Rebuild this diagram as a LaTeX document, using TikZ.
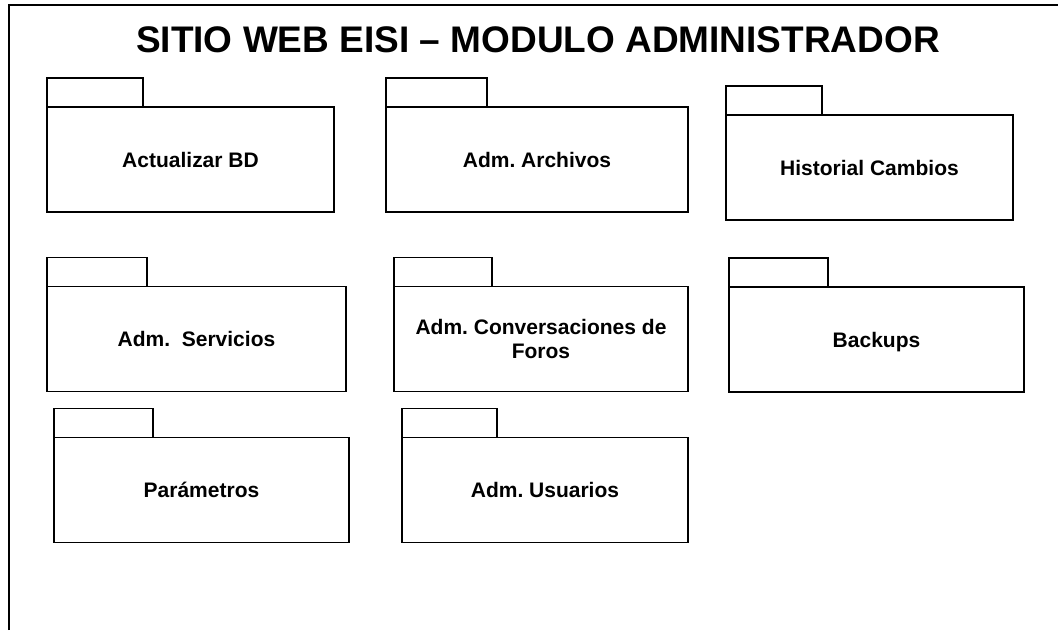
\documentclass[tikz,border=0pt]{standalone}
\usepackage{fontspec}
\setmainfont{Liberation Sans}
\usepackage{tikz}
\usetikzlibrary{positioning}
\frenchspacing

\begin{document}
\begin{tikzpicture}[
    x=1pt, y=-1pt,
    pkg/.style={draw, line width=1.4pt, outer sep=0pt, minimum height=105pt,
                align=center, font=\fontsize{21}{24}\selectfont\bfseries},
    tab/.style={draw, line width=1.4pt, outer sep=0pt, inner sep=0pt,
                minimum height=29pt, anchor=south west},
  ]
    \useasboundingbox (0,0) rectangle (1058,630);

    % Outer frame (only top and left edges show)
    \draw[line width=1.4pt] (9,630) -- (9,5) -- (1058,5);

    % Title
    \node[anchor=base, inner sep=0pt, font=\fontsize{37}{40}\selectfont\bfseries]
      (title) at (538,52) {SITIO WEB EISI \textendash{} MODULO ADMINISTRADOR};

    % First row
    \node[pkg, minimum width=287pt] (actbd) at (190.5,159.5) {Actualizar BD};
    \node[tab, minimum width=96pt] (actbd-tab) at (actbd.north west) {};

    \node[pkg, minimum width=302pt] (admarch) at (537,159.5) {Adm. Archivos};
    \node[tab, minimum width=101pt] (admarch-tab) at (admarch.north west) {};

    \node[pkg, minimum width=287pt] (histcamb) at (869.5,167.5) {Historial Cambios};
    \node[tab, minimum width=96pt] (histcamb-tab) at (histcamb.north west) {};

    % Second row
    \node[pkg, minimum width=299pt] (admserv) at (196.5,339) {Adm.\ \ Servicios};
    \node[tab, minimum width=100pt] (admserv-tab) at (admserv.north west) {};

    \node[pkg, minimum width=294pt] (admforos) at (541,339)
      {Adm. Conversaciones de\\Foros};
    \node[tab, minimum width=98pt] (admforos-tab) at (admforos.north west) {};

    \node[pkg, minimum width=295pt, text depth=0pt] (backups) at (876.5,339.5) {Backups};
    \node[tab, minimum width=99pt] (backups-tab) at (backups.north west) {};

    % Third row
    \node[pkg, minimum width=295pt] (param) at (201.5,490) {Parámetros};
    \node[tab, minimum width=99pt] (param-tab) at (param.north west) {};

    \node[pkg, minimum width=286pt] (admusu) at (545,490) {Adm. Usuarios};
    \node[tab, minimum width=95pt] (admusu-tab) at (admusu.north west) {};
  \end{tikzpicture}
\end{document}
